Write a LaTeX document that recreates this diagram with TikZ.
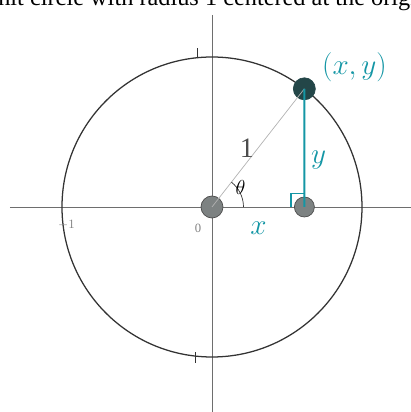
\documentclass[tikz,border=0pt]{standalone}
\usepackage{fontspec}
\setmainfont{Liberation Serif}
\usepackage{tikz}
\usetikzlibrary{positioning,calc}
\definecolor{penteal}{RGB}{20,150,165}
\definecolor{dotgray}{RGB}{125,130,130}
\definecolor{dotdark}{RGB}{35,70,72}
\definecolor{axisgray}{RGB}{110,110,110}

\begin{document}
\begin{tikzpicture}[
  scale=3.75,
  axisline/.style={axisgray, line width=0.6pt},
  dotpt/.style={circle, draw=black!70, fill=dotgray, line width=0.5pt, inner sep=0pt, minimum size=#1},
  pen/.style={penteal, font=\fontsize{20}{24}\selectfont},
  ticklbl/.style={gray, font=\small}
]
\useasboundingbox (-1.4133,-1.3667) rectangle (1.3267,1.38);
\clip (-1.4133,-1.3667) rectangle (1.3267,1.38);

% caption cut off by the page edge
\node[anchor=base east, inner sep=0pt, font=\fontsize{17.3}{20}\selectfont] (cap) at (1.45,1.342) {the unit circle with radius 1 centered at the origin};

% axes and circle
\draw[axisline] (-1.347,0) -- (1.33,0);
\draw[axisline] (0,1.28) -- (0,-1.37);
\draw[black!80, line width=0.9pt] (0,0) circle (1);
\draw[black!80, line width=0.6pt] (-0.1,0.99) -- (-0.1,1.06);
\draw[black!80, line width=0.6pt] (-0.113,-0.97) -- (-0.113,-1.04);
\node[ticklbl] (m1) at (-0.97,-0.12) {$-1$};
\node[ticklbl] (zero) at (-0.093,-0.14) {0};

% points
\node[dotpt=5.5mm] (O) at (0,0) {};
\node[dotpt=5mm] (F) at (0.616,0) {};
\node[dotpt=5.5mm, fill=dotdark, draw=dotdark] (P) at (52:1) {};

% radius, angle, legs
\draw[black!30, line width=0.5pt] (O.center) -- (P.center);
\draw[black!80, line width=0.5pt] (0.21,0) arc (0:52:0.21);
\node[font=\Large] (th) at (0.19,0.13) {$\theta$};
\draw[penteal, line width=1.4pt] (P.center) -- (F.center);
\draw[penteal, line width=1pt] ($(F.center)+(-0.09,0)$) -- ++(0,0.09) -- ++(0.09,0);

% labels
\node[black!70, font=\fontsize{20}{24}\selectfont] (one) at (0.233,0.393) {1};
\node[pen] (ylbl) at (0.71,0.31) {$y$};
\node[pen] (xlbl) at (0.31,-0.14) {$x$};
\node[pen] (xy) at (0.95,0.93) {$(x,y)$};
\end{tikzpicture}
\end{document}
